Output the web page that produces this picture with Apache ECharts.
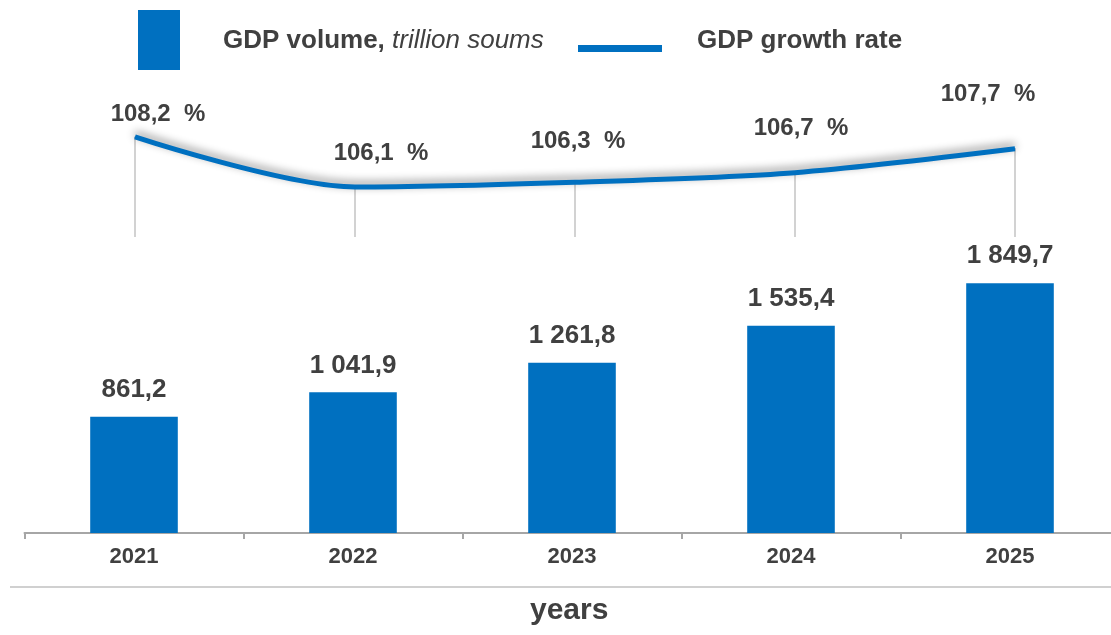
<!DOCTYPE html>
<html>
<head>
<meta charset="utf-8">
<script src="https://cdn.jsdelivr.net/npm/echarts@6/dist/echarts.min.js"></script>
<style>
html,body{margin:0;padding:0;background:#fff;}
#c{width:1111px;height:635px;}
</style>
</head>
<body>
<div id="c"></div>
<script>
const years = ['2021', '2022', '2023', '2024', '2025'];
const gdpVolume = [861.2, 1041.9, 1261.8, 1535.4, 1849.7];
const gdpGrowth = [108.2, 106.1, 106.3, 106.7, 107.7];
const barLabels = ['861,2', '1 041,9', '1 261,8', '1 535,4', '1 849,7'];
const growthLabels = ['108,2  %', '106,1  %', '106,3  %', '106,7  %', '107,7  %'];
const growthLabelOffsets = [[23, -23], [26, -34], [3, -41], [6, -44], [-27, -54]];

const FONT = '"Liberation Sans", Arial, sans-serif';
const BLUE = '#0070C0';
const TEXT = '#404040';

const chart = echarts.init(document.getElementById('c'));
chart.setOption({
  animation: false,
  backgroundColor: '#ffffff',
  grid: [
    {left: 24.5, width: 1095, top: 263, height: 270, outerBoundsMode: 'none', containLabel: false},
    {left: 25, width: 1100, top: 94, height: 143, outerBoundsMode: 'none', containLabel: false}
  ],
  xAxis: [
    {
      type: 'category', gridIndex: 0, data: years,
      axisLine: {lineStyle: {color: '#a6a6a6', width: 2}},
      axisTick: {show: true, length: 6, lineStyle: {color: '#a6a6a6', width: 2}},
      axisLabel: {color: TEXT, fontFamily: FONT, fontWeight: 'bold', fontSize: 22, margin: 13}
    },
    {
      type: 'category', gridIndex: 1, data: years, show: false
    }
  ],
  yAxis: [
    {type: 'value', gridIndex: 0, min: 0, max: 2000, show: false, splitLine: {show: false}},
    {type: 'value', gridIndex: 1, min: 104, max: 110, show: false, splitLine: {show: false}}
  ],
  series: [
    {
      type: 'bar', xAxisIndex: 0, yAxisIndex: 0,
      data: gdpVolume, barWidth: '40%',
      itemStyle: {color: BLUE},
      label: {
        show: true, position: 'top', distance: 14,
        color: TEXT, fontFamily: FONT, fontWeight: 'bold', fontSize: 26,
        formatter: p => barLabels[p.dataIndex]
      }
    },
    {
      type: 'bar', xAxisIndex: 1, yAxisIndex: 1,
      data: gdpGrowth, barWidth: 1,
      itemStyle: {color: '#a6a6a6'},
      z: 1
    },
    {
      type: 'line', xAxisIndex: 1, yAxisIndex: 1,
      data: gdpGrowth.map((v, i) => ({
        value: v,
        label: {offset: growthLabelOffsets[i]}
      })),
      smooth: 0.3,
      symbol: 'circle', symbolSize: 1, showSymbol: true,
      itemStyle: {color: BLUE},
      lineStyle: {
        color: BLUE, width: 5, cap: 'butt',
        shadowColor: 'rgba(0,0,0,0.45)', shadowBlur: 8, shadowOffsetY: -3
      },
      label: {
        show: true, position: 'inside',
        color: TEXT, fontFamily: FONT, fontWeight: 'bold', fontSize: 24,
        formatter: p => growthLabels[p.dataIndex]
      },
      z: 3
    }
  ],
  graphic: [
    {type: 'rect', shape: {x: 138, y: 10, width: 42, height: 60}, style: {fill: BLUE}},
    {
      type: 'text', left: 223, top: 28,
      style: {
        text: '{b|GDP volume, }{i|trillion soums}',
        rich: {
          b: {fontFamily: FONT, fontWeight: 'bold', fontSize: 26, fill: TEXT},
          i: {fontFamily: FONT, fontStyle: 'italic', fontSize: 26, fill: TEXT}
        }
      }
    },
    {type: 'rect', shape: {x: 578, y: 45, width: 84, height: 7}, style: {fill: BLUE}},
    {
      type: 'text', left: 697, top: 28,
      style: {text: 'GDP growth rate', fontFamily: FONT, fontWeight: 'bold', fontSize: 26, fill: TEXT}
    },
    {type: 'line', shape: {x1: 10, y1: 587, x2: 1111, y2: 587}, style: {stroke: '#d0d0d0', lineWidth: 2}},
    {
      type: 'text', left: 530, top: 596,
      style: {text: 'years', fontFamily: FONT, fontWeight: 'bold', fontSize: 30, fill: TEXT}
    }
  ]
});
</script>
</body>
</html>
